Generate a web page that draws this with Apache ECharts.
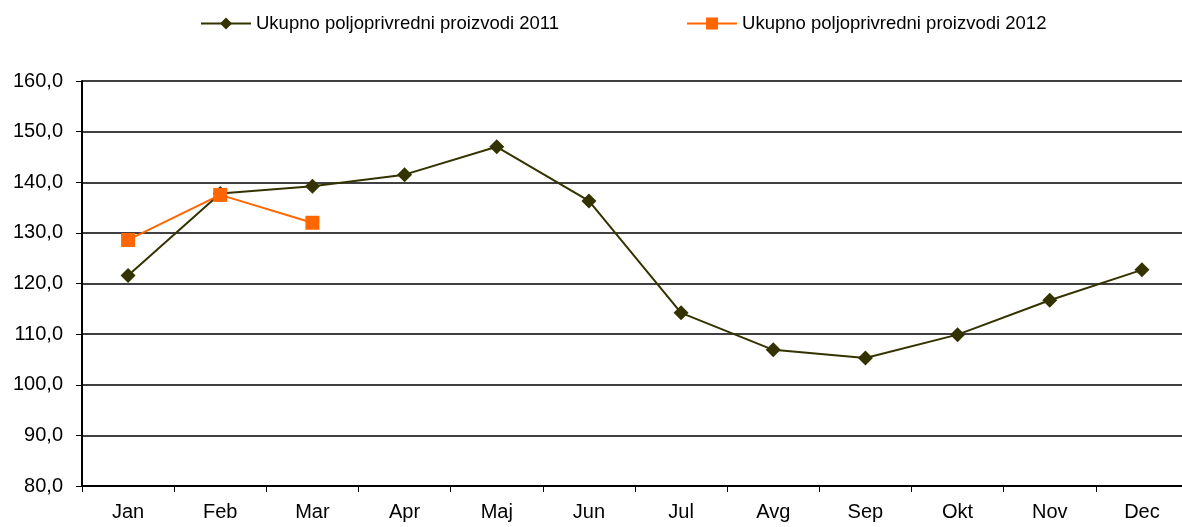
<!DOCTYPE html>
<html>
<head>
<meta charset="utf-8">
<script src="https://cdn.jsdelivr.net/npm/echarts@6/dist/echarts.min.js"></script>
<style>
  html, body { margin: 0; padding: 0; background: #fff; }
  #chart { width: 1182px; height: 527px; }
</style>
</head>
<body>
<div id="chart"></div>
<script>
const months = ['Jan', 'Feb', 'Mar', 'Apr', 'Maj', 'Jun', 'Jul', 'Avg', 'Sep', 'Okt', 'Nov', 'Dec'];
const values2011 = [121.6, 137.8, 139.2, 141.5, 147.0, 136.3, 114.2, 106.9, 105.3, 109.9, 116.7, 122.7];
const values2012 = [128.6, 137.5, 132.0];
const seriesNames = ['Ukupno poljoprivredni proizvodi 2011', 'Ukupno poljoprivredni proizvodi 2012'];

const chart = echarts.init(document.getElementById('chart'));

const option = {
  animation: false,
  textStyle: { fontFamily: 'Liberation Sans, Arial, sans-serif' },
  legend: {
    top: 9,
    left: 195,
    itemGap: 127,
    itemWidth: 50,
    itemHeight: 15,
    textStyle: { fontSize: 18.5, color: '#000' },
    data: seriesNames
  },
  grid: { left: 82, width: 1106, top: 81, bottom: 41, outerBoundsMode: 'none' },
  xAxis: {
    type: 'category',
    data: months,
    boundaryGap: true,
    axisLine: { lineStyle: { color: '#000', width: 2 } },
    axisTick: { show: true, length: 6, lineStyle: { color: '#000' } },
    axisLabel: { fontSize: 20, color: '#000', margin: 16 }
  },
  yAxis: {
    type: 'value',
    min: 80,
    max: 160,
    interval: 10,
    axisLine: { show: true, lineStyle: { color: '#000', width: 2 } },
    axisTick: { show: true, length: 6, lineStyle: { color: '#000' } },
    axisLabel: {
      fontSize: 20,
      color: '#000',
      margin: 19,
      formatter: (v) => v.toFixed(1).replace('.', ',')
    },
    splitLine: { lineStyle: { color: '#000', width: 1.5 } }
  },
  series: [
    {
      name: seriesNames[0],
      type: 'line',
      data: values2011,
      symbol: 'diamond',
      symbolSize: 15,
      lineStyle: { color: '#333300', width: 2 },
      itemStyle: { color: '#333300' }
    },
    {
      name: seriesNames[1],
      type: 'line',
      data: values2012,
      symbol: 'rect',
      symbolSize: 14,
      lineStyle: { color: '#ff6600', width: 2 },
      itemStyle: { color: '#ff6600' }
    }
  ]
};

chart.setOption(option);
</script>
</body>
</html>
